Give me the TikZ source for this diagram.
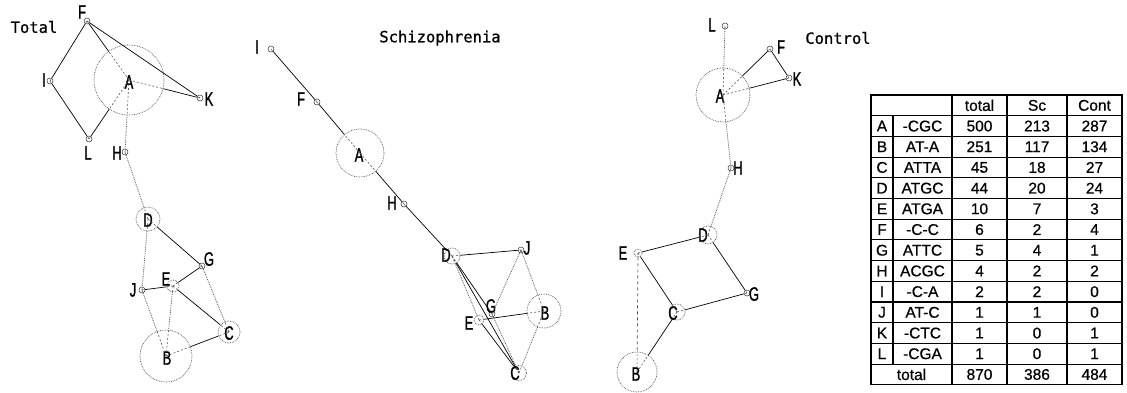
\documentclass[tikz,border=0pt]{standalone}
\usepackage{fontspec}
\setmainfont{Liberation Sans}
\newfontfamily\lblfont{Liberation Sans}[FakeStretch=0.66, FakeBold=1.2]
\newfontfamily\ttlfont{DejaVu Sans Mono}[FakeBold=0.8]
\newfontfamily\tabfont{Liberation Sans}[FakeBold=0.6]
\usetikzlibrary{calc}
\tikzset{
  smallnode/.style={circle, draw=black!80, line width=0.5pt, minimum size=6pt, inner sep=0pt},
  bignode/.style={circle, draw=black!70, densely dotted, line width=0.7pt, minimum size=#1, inner sep=0pt},
  lbl/.style={font=\lblfont\fontsize{19.5}{19.5}\selectfont, inner sep=0pt},
  solidedge/.style={black, line width=0.7pt},
  dotedge/.style={black!65, densely dotted, line width=0.8pt},
  dashedge/.style={black!70, dashed, line width=0.7pt},
  inneredge/.style={black!65, dash pattern=on 2pt off 2pt, line width=0.6pt},
  ttlstyle/.style={font=\ttlfont\fontsize{15.5}{15.5}\selectfont, inner sep=0pt},
  tcell/.style={font=\tabfont\fontsize{15.5}{15.5}\selectfont, inner sep=0pt},
  tline/.style={black, line width=1.1pt}
}
\newcommand\netedge[3]{%
  \path (#2) -- (#3) coordinate[pos=0] (ea) coordinate[pos=1] (eb);
  \draw[#1] (ea) -- (eb);
  \draw[inneredge] (#2.center) -- (ea) (#3.center) -- (eb);}
\begin{document}
\begin{tikzpicture}[x=1pt, y=-1pt]
\path[use as bounding box, fill=white] (0,0) rectangle (1127,392);

% ---------------- Total ----------------
\node[ttlstyle] (ttotal) at (34,27) {Total};
\node[bignode=70pt] (tA) at (129,80) {};
\node[smallnode] (tF) at (87,21) {};
\node[smallnode] (tI) at (50,81) {};
\node[smallnode] (tK) at (200,98) {};
\node[smallnode] (tL) at (89,139) {};
\node[smallnode] (tH) at (125,152) {};
\node[bignode=24pt] (tD) at (148,219) {};
\node[smallnode] (tG) at (202,266) {};
\node[bignode=12pt] (tE) at (173,286) {};
\node[smallnode] (tJ) at (142,290) {};
\node[bignode=22pt] (tC) at (229,332) {};
\node[bignode=52pt] (tB) at (166,356) {};
\node[lbl] (tAl) at (129,82) {A};
\node[lbl] (tFl) at (82,12) {F};
\node[lbl] (tIl) at (44,80) {I};
\node[lbl] (tKl) at (209,99) {K};
\node[lbl] (tLl) at (88,153) {L};
\node[lbl] (tHl) at (117,153) {H};
\node[lbl] (tDl) at (148,220) {D};
\node[lbl] (tGl) at (209,259) {G};
\node[lbl] (tEl) at (166,279) {E};
\node[lbl] (tJl) at (133,290) {J};
\node[lbl] (tCl) at (229,333) {C};
\node[lbl] (tBl) at (167,358) {B};
\netedge{solidedge}{tF}{tI}
\netedge{solidedge}{tI}{tL}
\netedge{solidedge}{tL}{tA}
\netedge{solidedge}{tF}{tA}
\netedge{solidedge}{tF}{tK}
\netedge{solidedge}{tA}{tK}
\netedge{dotedge}{tA}{tH}
\netedge{dotedge}{tH}{tD}
\netedge{solidedge}{tD}{tG}
\netedge{dotedge}{tD}{tJ}
\netedge{solidedge}{tJ}{tE}
\netedge{solidedge}{tE}{tG}
\netedge{solidedge}{tE}{tC}
\netedge{dotedge}{tG}{tC}
\netedge{dotedge}{tJ}{tB}
\netedge{dotedge}{tE}{tB}
\netedge{solidedge}{tC}{tB}

% ---------------- Schizophrenia ----------------
\node[ttlstyle] (stitle) at (440,38) {Schizophrenia};
\node[smallnode] (sI) at (271,49) {};
\node[smallnode] (sF) at (317,102) {};
\node[bignode=48pt] (sA) at (360,153) {};
\node[smallnode] (sH) at (404,204) {};
\node[bignode=16pt] (sD) at (452,256) {};
\node[smallnode] (sJ) at (521,250) {};
\node[smallnode] (sG) at (492,314) {};
\node[bignode=10pt] (sE) at (479,320) {};
\node[bignode=34pt] (sB) at (544,311) {};
\node[bignode=15pt] (sC) at (519,373) {};
\node[lbl] (sIl) at (257,47) {I};
\node[lbl] (sFl) at (301,99) {F};
\node[lbl] (sAl) at (359,155) {A};
\node[lbl] (sHl) at (392,203) {H};
\node[lbl] (sDl) at (446,255) {D};
\node[lbl] (sJl) at (527,248) {J};
\node[lbl] (sGl) at (491,306) {G};
\node[lbl] (sEl) at (469,323) {E};
\node[lbl] (sBl) at (545,313) {B};
\node[lbl] (sCl) at (515,373) {C};
\netedge{solidedge}{sI}{sF}
\netedge{solidedge}{sF}{sA}
\netedge{solidedge}{sA}{sH}
\netedge{solidedge}{sH}{sD}
\netedge{solidedge}{sD}{sJ}
\netedge{dotedge}{sD}{sE}
\netedge{solidedge}{sD}{sG}
\netedge{solidedge}{sD}{sC}
\netedge{solidedge}{sE}{sC}
\netedge{dotedge}{sG}{sC}
\netedge{solidedge}{sE}{sB}
\netedge{dotedge}{sJ}{sG}
\netedge{dotedge}{sJ}{sB}
\netedge{dotedge}{sB}{sC}

% ---------------- Control ----------------
\node[ttlstyle] (ctitle) at (838,38) {Control};
\node[smallnode] (cL) at (725,26) {};
\node[bignode=54pt] (cA) at (723,95) {};
\node[smallnode] (cF) at (770,49) {};
\node[smallnode] (cK) at (789,78) {};
\node[smallnode] (cH) at (731,168) {};
\node[bignode=18pt] (cD) at (708,235) {};
\node[bignode=8pt] (cE) at (638,253) {};
\node[smallnode] (cG) at (747,293) {};
\node[bignode=16pt] (cC) at (677,312) {};
\node[bignode=40pt] (cB) at (637,372) {};
\node[lbl] (cLl) at (712,25) {L};
\node[lbl] (cAl) at (720,96) {A};
\node[lbl] (cFl) at (781,47) {F};
\node[lbl] (cKl) at (797,79) {K};
\node[lbl] (cHl) at (738,168) {H};
\node[lbl] (cDl) at (703,235) {D};
\node[lbl] (cEl) at (623,253) {E};
\node[lbl] (cGl) at (754,294) {G};
\node[lbl] (cCl) at (673,313) {C};
\node[lbl] (cBl) at (636,374) {B};
\netedge{dotedge}{cL}{cA}
\netedge{solidedge}{cA}{cF}
\netedge{solidedge}{cA}{cK}
\netedge{solidedge}{cF}{cK}
\netedge{dotedge}{cA}{cH}
\netedge{dotedge}{cH}{cD}
\netedge{solidedge}{cD}{cE}
\netedge{solidedge}{cD}{cG}
\netedge{solidedge}{cE}{cC}
\netedge{dashedge}{cE}{cB}
\netedge{solidedge}{cC}{cG}
\netedge{solidedge}{cC}{cB}

% ---------------- Table ----------------
\def\rh{20.7}
\draw[tline] (871,95) rectangle (1122,{95+14*\rh});
\foreach \k in {1,...,13} \draw[tline] (871,{95+\k*\rh}) -- (1122,{95+\k*\rh});
\foreach \xx in {952,1007,1067} \draw[tline] (\xx,95) -- (\xx,{95+14*\rh});
\draw[tline] (893,{95+\rh}) -- (893,{95+13*\rh});
\node[tcell] (h1) at (979.5,{95+0.5*\rh}) {total};
\node[tcell] (h2) at (1037,{95+0.5*\rh}) {Sc};
\node[tcell] (h3) at (1094.5,{95+0.5*\rh}) {Cont};
\foreach \L/\N/\a/\b/\c [count=\k] in {A/-CGC/500/213/287, B/AT-A/251/117/134, C/ATTA/45/18/27, D/ATGC/44/20/24, E/ATGA/10/7/3, F/-C-C/6/2/4, G/ATTC/5/4/1, H/ACGC/4/2/2, I/-C-A/2/2/0, J/AT-C/1/1/0, K/-CTC/1/0/1, L/-CGA/1/0/1}{
  \node[tcell] (rl\k) at (882,{95+(\k+0.5)*\rh}) {\L};
  \node[tcell] (rn\k) at (922.5,{95+(\k+0.5)*\rh}) {\N};
  \node[tcell] (ra\k) at (979.5,{95+(\k+0.5)*\rh}) {\a};
  \node[tcell] (rb\k) at (1037,{95+(\k+0.5)*\rh}) {\b};
  \node[tcell] (rc\k) at (1094.5,{95+(\k+0.5)*\rh}) {\c};
}
\node[tcell] (tt0) at (911.5,{95+13.5*\rh}) {total};
\node[tcell] (tt1) at (979.5,{95+13.5*\rh}) {870};
\node[tcell] (tt2) at (1037,{95+13.5*\rh}) {386};
\node[tcell] (tt3) at (1094.5,{95+13.5*\rh}) {484};
\end{tikzpicture}
\end{document}
